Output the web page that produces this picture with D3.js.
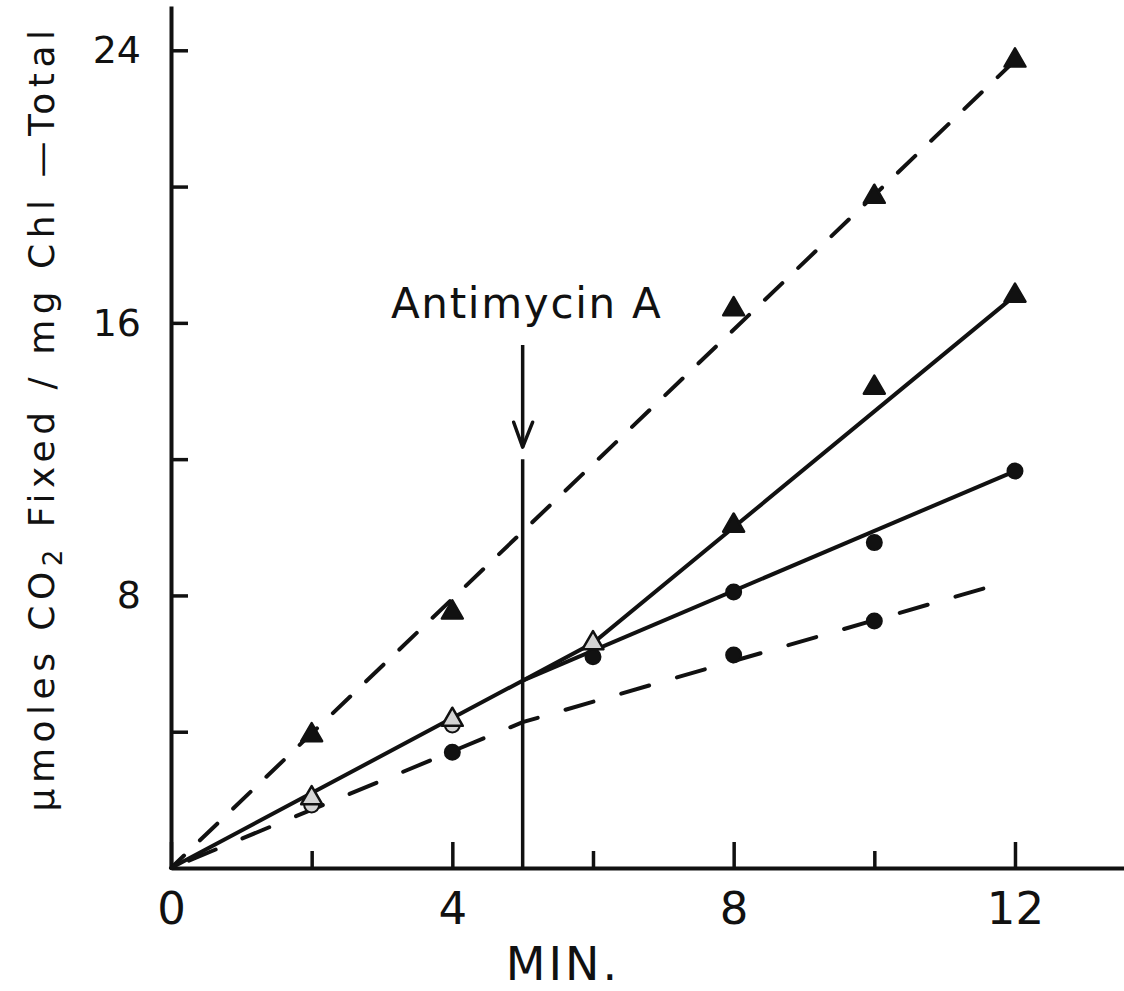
<!DOCTYPE html>
<html lang="en">

<head>
  <meta charset="UTF-8">
  <title>CO2 fixed vs time, Antimycin A</title>
  <script src="https://d3js.org/d3.v7.min.js"></script>
  <style>
    body { margin: 0; background: #fff; }
    svg { display: block; font-family: 'DejaVu Sans', sans-serif; }
  </style>
</head>

<body>
  <script>
    // measured points (minutes, umoles CO2 / mg Chl)
    const triDashX = [2, 4, 8, 10, 12];
    const triDashY = [3.9, 7.5, 16.4, 19.7, 23.7];

    const triSolidX = [2, 4, 6, 8, 10, 12];
    const triSolidY = [2.05, 4.35, 6.6, 10.05, 14.1, 16.8];

    const circSolidX = [2, 4, 6, 8, 10, 12];
    const circSolidY = [1.85, 4.2, 6.2, 8.1, 9.55, 11.65];

    const circDashX = [4, 8, 10];
    const circDashY = [3.4, 6.25, 7.25];

    // hand drawn fit lines (dashed ones listed from their far end)
    const fitTriDash = [[12, 23.7], [0, 0]];
    const fitTriSolid = [[0, 0], [6, 6.6], [12, 16.8]];
    const fitCircSolid = [[5, 5.5], [12, 11.65]];
    const fitCircDash = [[11.55, 8.2], [5, 4.28], [0, 0]];

    // antimycin addition
    const antimycinAt = 5;
    const antimycinLineTop = 12;
    const arrowFrom = 15.35;
    const arrowTo = 12.35;

    // axis ticks
    const xMajor = [0, 4, 8, 12];
    const xMinor = [2, 6, 10];
    const yMajor = [8, 16, 24];
    const yMinor = [4, 12, 20];

    const w = 1124;
    const h = 991;
    const ink = '#111';

    const x = d3.scaleLinear().domain([0, 13.55]).range([171, 1124]);
    const y = d3.scaleLinear().domain([0, 25.3]).range([868, 6]);

    const svg = d3.select('body')
      .append('svg')
      .attr('width', w)
      .attr('height', h)

    // x axis
    const gx = svg.append('g')
      .attr('transform', `translate(0,${y(0)})`)
      .call(d3.axisBottom(x).tickValues(xMajor).tickSizeInner(-26).tickSizeOuter(0)
        .tickPadding(24).tickFormat(d3.format('d')))
    svg.append('g')
      .attr('transform', `translate(0,${y(0)})`)
      .call(d3.axisBottom(x).tickValues(xMinor).tickSizeInner(-17).tickSizeOuter(0).tickFormat(''))
      .call(g => g.select('.domain').remove())

    // y axis
    const gy = svg.append('g')
      .attr('transform', `translate(${x(0)},0)`)
      .call(d3.axisLeft(y).tickValues(yMajor).tickSizeInner(-17).tickSizeOuter(0)
        .tickPadding(30).tickFormat(d3.format('d')))
    svg.append('g')
      .attr('transform', `translate(${x(0)},0)`)
      .call(d3.axisLeft(y).tickValues(yMinor).tickSizeInner(-17).tickSizeOuter(0).tickFormat(''))
      .call(g => g.select('.domain').remove())

    svg.selectAll('.domain').attr('stroke', ink).attr('stroke-width', 4)
    svg.selectAll('.tick line').attr('stroke', ink).attr('stroke-width', 3.5)
    svg.selectAll('.tick text').attr('fill', ink)
    gx.attr('font-family', null).attr('font-size', 45)
    gy.attr('font-family', null).attr('font-size', 38)

    // axis titles
    svg.append('text')
      .attr('x', (x(4) + x(8)) / 2 - 30)
      .attr('y', 980)
      .attr('text-anchor', 'middle')
      .attr('font-size', 46)
      .attr('letter-spacing', 3)
      .attr('fill', ink)
      .text('MIN.')

    const yTitle = svg.append('text')
      .attr('transform', 'translate(54,418) rotate(-90)')
      .attr('text-anchor', 'middle')
      .attr('font-size', 36)
      .attr('letter-spacing', 5.5)
      .attr('fill', ink)
    yTitle.append('tspan').text('\u00b5moles CO')
    yTitle.append('tspan').attr('font-size', 26).attr('dy', 8).text('2')
    yTitle.append('tspan').attr('dy', -8).text(' Fixed / mg Chl \u2014Total')

    // fit lines
    const line = d3.line().x(d => x(d[0])).y(d => y(d[1]))

    svg.append('path').datum(fitTriDash)
      .attr('d', line).attr('fill', 'none').attr('stroke', ink)
      .attr('stroke-width', 4).attr('stroke-linecap', 'round').attr('stroke-dasharray', '24,22')
    svg.append('path').datum(fitCircDash)
      .attr('d', line).attr('fill', 'none').attr('stroke', ink)
      .attr('stroke-width', 4).attr('stroke-linecap', 'round').attr('stroke-dasharray', '29,29')
    svg.append('path').datum(fitTriSolid)
      .attr('d', line).attr('fill', 'none').attr('stroke', ink).attr('stroke-width', 4)
    svg.append('path').datum(fitCircSolid)
      .attr('d', line).attr('fill', 'none').attr('stroke', ink).attr('stroke-width', 4)

    // antimycin line + arrow
    svg.append('line')
      .attr('x1', x(antimycinAt)).attr('x2', x(antimycinAt))
      .attr('y1', y(0)).attr('y2', y(antimycinLineTop))
      .attr('stroke', ink).attr('stroke-width', 3.5)
    svg.append('line')
      .attr('x1', x(antimycinAt)).attr('x2', x(antimycinAt))
      .attr('y1', y(arrowFrom)).attr('y2', y(arrowTo))
      .attr('stroke', ink).attr('stroke-width', 3.5)
    svg.append('path')
      .attr('d', `M${x(antimycinAt) - 9},${y(arrowTo) - 25}L${x(antimycinAt)},${y(arrowTo)}L${x(antimycinAt) + 10},${y(arrowTo) - 25}`)
      .attr('fill', 'none').attr('stroke', ink).attr('stroke-width', 3.5)
      .attr('stroke-linejoin', 'round').attr('stroke-linecap', 'round')
    svg.append('text')
      .attr('x', x(antimycinAt) + 4)
      .attr('y', y(arrowFrom) - 27)
      .attr('text-anchor', 'middle')
      .attr('font-size', 42)
      .attr('letter-spacing', 1.7)
      .attr('fill', ink)
      .text('Antimycin A')

    // markers
    const pts = (xs, ys, overlap) => xs.map((v, i) => ({ x: v, y: ys[i], overlap: overlap(v) }))
    const light = '#d4d4d4'

    // before antimycin the solid-line circles sit under the triangles
    const circles = pts(circSolidX, circSolidY, v => v < 6).concat(pts(circDashX, circDashY, () => false))
    svg.selectAll('circle.pt')
      .data(circles)
      .enter()
      .append('circle')
      .attr('class', 'pt')
      .attr('cx', d => x(d.x))
      .attr('cy', d => y(d.y))
      .attr('r', 7.5)
      .attr('fill', d => d.overlap ? light : ink)
      .attr('stroke', ink)
      .attr('stroke-width', 2)

    const tri = d3.symbol(d3.symbolTriangle, 190)
    const triangles = pts(triSolidX, triSolidY, v => v <= 6).concat(pts(triDashX, triDashY, () => false))
    svg.selectAll('path.tri')
      .data(triangles)
      .enter()
      .append('path')
      .attr('class', 'tri')
      .attr('d', tri)
      .attr('transform', d => `translate(${x(d.x)},${y(d.y)})`)
      .attr('fill', d => d.overlap ? light : ink)
      .attr('stroke', ink)
      .attr('stroke-width', 2.5)
      .attr('stroke-linejoin', 'round')
  </script>
</body>

</html>
